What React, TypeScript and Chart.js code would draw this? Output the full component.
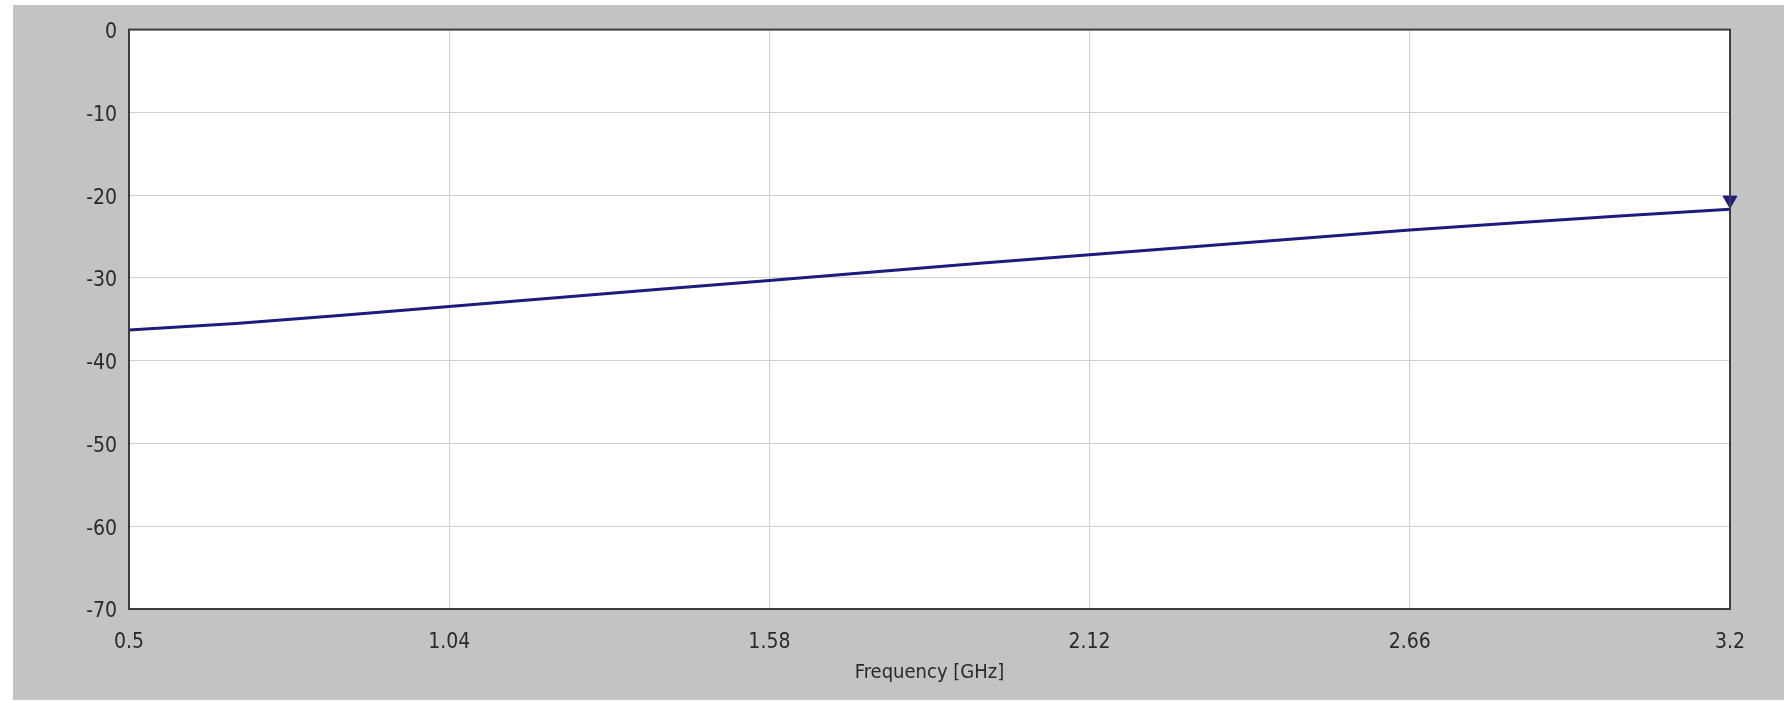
import React, { useEffect, useRef } from "react";
import { Chart, registerables } from "chart.js";

Chart.register(...registerables);

const frequencies = [0.5, 0.68, 0.86, 1.04, 1.22, 1.4, 1.58, 1.76, 1.94, 2.12, 2.3, 2.48, 2.66, 2.84, 3.02, 3.2];
const magnitudes = [-36.3, -35.5, -34.5, -33.45, -32.4, -31.35, -30.3, -29.25, -28.2, -27.2, -26.2, -25.2, -24.2, -23.35, -22.5, -21.7];
const markerFreq = [3.2];
const markerValue = [-20.6];
const xTickValues = [0.5, 1.04, 1.58, 2.12, 2.66, 3.2];
const xTickLabels = ["0.5", "1.04", "1.58", "2.12", "2.66", "3.2"];
const yTickValues = [0, -10, -20, -30, -40, -50, -60, -70];

const FONT = "'DejaVu Sans Condensed', 'Liberation Sans Narrow', 'Liberation Sans', Arial, sans-serif";

const plotFrame = {
  id: "plotFrame",
  beforeDraw(chart: any) {
    const { ctx, chartArea: a } = chart;
    ctx.save();
    ctx.fillStyle = "#ffffff";
    ctx.fillRect(a.left, a.top, a.right - a.left, a.bottom - a.top);
    ctx.restore();
  },
  afterDatasetsDraw(chart: any) {
    const { ctx, chartArea: a } = chart;
    ctx.save();
    ctx.strokeStyle = "#3c3c3c";
    ctx.lineWidth = 2;
    ctx.strokeRect(a.left, a.top, a.right - a.left, a.bottom - a.top);
    ctx.restore();
  },
};

export default function App() {
  const ref = useRef<HTMLCanvasElement>(null);
  useEffect(() => {
    if (!ref.current) return;
    const chart = new Chart(ref.current, {
      type: "line",
      data: {
        datasets: [
          {
            label: "S",
            data: frequencies.map((f, i) => ({ x: f, y: magnitudes[i] })),
            borderColor: "#1c1c7e",
            borderWidth: 3,
            pointRadius: 0,
            tension: 0,
          },
          {
            label: "marker",
            data: markerFreq.map((f, i) => ({ x: f, y: markerValue[i] })),
            showLine: false,
            clip: false,
            pointStyle: "triangle",
            rotation: 180,
            pointRadius: 8,
            backgroundColor: "#1c1c7e",
            borderColor: "#1c1c7e",
            borderWidth: 1,
          },
        ],
      },
      options: {
        responsive: false,
        animation: false,
        layout: { padding: { top: 18, right: 54, left: 0, bottom: 0 } },
        plugins: { legend: { display: false }, tooltip: { enabled: false } },
        scales: {
          x: {
            type: "linear",
            min: 0.5,
            max: 3.2,
            afterBuildTicks: (s: any) => {
              s.ticks = xTickValues.map((v) => ({ value: v }));
            },
            afterFit: (s: any) => {
              s.height = 91;
            },
            ticks: {
              autoSkip: false,
              maxRotation: 0,
              padding: 21,
              color: "#2a2a2a",
              font: { family: FONT, size: 21 },
              callback: (v: any) => {
                const i = xTickValues.findIndex((t) => Math.abs(t - v) < 1e-6);
                return i >= 0 ? xTickLabels[i] : "";
              },
            },
            grid: { color: "#cfcfcf", lineWidth: 1, drawTicks: false },
            border: { display: false },
            title: {
              display: true,
              text: "Frequency [GHz]",
              color: "#2a2a2a",
              font: { family: FONT, size: 20 },
              padding: { top: 0, bottom: 15 },
            },
          },
          y: {
            type: "linear",
            min: -70,
            max: 0,
            afterBuildTicks: (s: any) => {
              s.ticks = yTickValues.map((v) => ({ value: v }));
            },
            afterFit: (s: any) => {
              s.width = 116;
            },
            ticks: {
              padding: 12,
              labelOffset: 3,
              color: "#2a2a2a",
              font: { family: FONT, size: 21 },
              callback: (v: any) => String(v),
            },
            grid: { color: "#cfcfcf", lineWidth: 1, drawTicks: false },
            border: { display: false },
          },
        },
      },
      plugins: [plotFrame],
    });
    return () => chart.destroy();
  }, []);

  return (
    <div
      style={{
        position: "absolute",
        left: 13,
        top: 5,
        width: 1771,
        height: 695,
        background: "#c3c3c3",
      }}
    >
      <canvas ref={ref} width={1771} height={695} style={{ display: "block" }} />
    </div>
  );
}
